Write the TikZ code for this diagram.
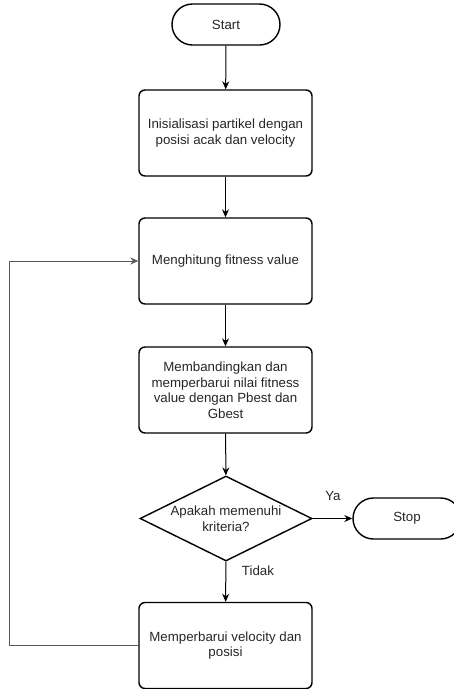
\documentclass[tikz,border=0pt]{standalone}
\usepackage{fontspec}
\setmainfont{Liberation Sans}
\usetikzlibrary{shapes.geometric,arrows.meta}
\begin{document}
\begin{tikzpicture}[x=1pt,y=-1pt,
  every node/.style={font=\fontsize{13.3}{15.5}\selectfont, text=black!85},
  procbox/.style={draw, line width=1.4pt, rounded corners=6pt, minimum width=173pt, minimum height=86pt, align=center, inner sep=2pt},
  termbox/.style={draw, line width=1.4pt, rounded corners=20.5pt, minimum width=108pt, minimum height=41pt},
  decbox/.style={draw, line width=1.4pt, diamond, aspect=2, minimum width=172pt, minimum height=85pt, inner sep=0pt, align=center},
  arr/.style={-{Stealth[length=8pt,width=7pt]}, line width=1pt},
  lbl/.style={inner sep=0pt}]
\useasboundingbox (0,0) rectangle (454,689);
\node[termbox] (start) at (226,24.5) {Start};
\node[procbox] (b1) at (225.5,133) {Inisialisasi partikel dengan\\posisi acak dan velocity};
\node[procbox] (b2) at (225.5,261) {Menghitung fitness value};
\node[procbox] (b3) at (225.5,390) {Membandingkan dan\\memperbarui nilai fitness\\value dengan Pbest dan\\Gbest};
\node[decbox] (d) at (226,518.5) {Apakah memenuhi\\kriteria?};
\node[termbox] (stop) at (407,518.5) {Stop};
\node[procbox] (b4) at (225.5,645.5) {Memperbarui velocity dan\\posisi};
\node[lbl] (ya) at (333,496) {Ya};
\node[lbl] (tidak) at (258,571) {Tidak};
\draw[arr] (start) -- (b1);
\draw[arr] (b1) -- (b2);
\draw[arr] (b2) -- (b3);
\draw[arr] (b3) -- (d);
\draw[arr] (d) -- (stop);
\draw[arr] (d) -- (b4);
\draw[arr, black!65] (b4.west) -- ++(-129,0) |- (b2.west);
\end{tikzpicture}
\end{document}
